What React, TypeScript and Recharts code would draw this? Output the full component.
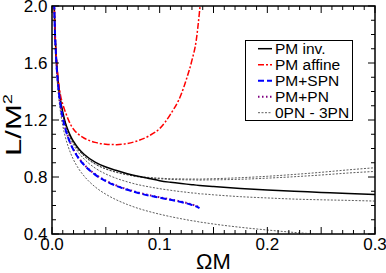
import React from "react";
import { LineChart, Line, XAxis, YAxis, ReferenceArea, Legend } from "recharts";

// ΩM grid the curves were read on
const omegaM = [
  0.0015, 0.0025, 0.004, 0.006, 0.008, 0.01, 0.0125, 0.015, 0.0175, 0.02, 0.025, 0.03, 0.04, 0.05,
  0.06, 0.07, 0.08, 0.09, 0.1, 0.11, 0.12, 0.125, 0.13, 0.134, 0.137, 0.14, 0.15, 0.175, 0.2, 0.225,
  0.25, 0.275, 0.3,
];

const pmInv = [
  2.2, 1.88, 1.635, 1.45, 1.335, 1.255, 1.18, 1.126, 1.083, 1.05, 0.997, 0.958, 0.905, 0.87, 0.845,
  0.823, 0.805, 0.79, 0.774, 0.763, 0.754, 0.75, 0.746, 0.743, 0.741, 0.739, 0.733, 0.72, 0.709, 0.7,
  0.692, 0.684, 0.677,
];

// stops where it leaves the top of the frame
const pmAffine = [
  2.22, 1.89, 1.645, 1.47, 1.37, 1.31, 1.255, 1.205, 1.165, 1.135, 1.097, 1.072, 1.043, 1.03, 1.027,
  1.035, 1.055, 1.088, 1.14, 1.24, 1.38, 1.49, 1.62, 1.76, 1.96, 2.2,
];

// both end around ΩM = 0.137
const pmSpn = [
  2.21, 1.875, 1.615, 1.421, 1.3, 1.213, 1.135, 1.076, 1.028, 0.989, 0.928, 0.883, 0.817, 0.771,
  0.737, 0.71, 0.688, 0.67, 0.655, 0.64, 0.624, 0.615, 0.604, 0.594, 0.582,
];
const pmPn = [
  2.21, 1.878, 1.618, 1.424, 1.303, 1.216, 1.138, 1.079, 1.031, 0.992, 0.931, 0.886, 0.82, 0.774,
  0.74, 0.713, 0.691, 0.673, 0.658, 0.643, 0.627, 0.618, 0.607, 0.597, 0.585,
];

const pn0 = [
  2.18, 1.84, 1.575, 1.376, 1.25, 1.16, 1.077, 1.014, 0.963, 0.921, 0.855, 0.805, 0.731, 0.679,
  0.639, 0.607, 0.58, 0.558, 0.539, 0.522, 0.507, 0.5, 0.493, 0.489, 0.484, 0.481, 0.47, 0.447,
  0.428, 0.411, 0.397, 0.385, 0.373,
];
const pn1 = [
  2.22, 1.89, 1.636, 1.446, 1.327, 1.243, 1.166, 1.109, 1.063, 1.026, 0.968, 0.925, 0.863, 0.821,
  0.79, 0.766, 0.746, 0.731, 0.718, 0.707, 0.697, 0.693, 0.688, 0.686, 0.682, 0.681, 0.675, 0.662,
  0.653, 0.645, 0.64, 0.636, 0.631,
];
const pn2 = [
  2.22, 1.89, 1.639, 1.45, 1.332, 1.25, 1.175, 1.119, 1.075, 1.04, 0.985, 0.946, 0.891, 0.856,
  0.832, 0.815, 0.801, 0.793, 0.788, 0.783, 0.781, 0.78, 0.78, 0.779, 0.778, 0.779, 0.78, 0.784,
  0.792, 0.802, 0.814, 0.828, 0.839,
];
const pn3 = [
  2.22, 1.89, 1.639, 1.45, 1.332, 1.25, 1.175, 1.119, 1.075, 1.04, 0.985, 0.946, 0.892, 0.857,
  0.834, 0.817, 0.804, 0.797, 0.792, 0.788, 0.787, 0.786, 0.786, 0.786, 0.785, 0.786, 0.788, 0.795,
  0.805, 0.818, 0.833, 0.85, 0.865,
];

const xTickLabels = [0, 0.1, 0.2, 0.3];
const yTickLabels = [0.4, 0.8, 1.2, 1.6, 2.0];

const data = omegaM.map((m, i) => ({
  m,
  pmInv: pmInv[i] ?? null,
  pmAffine: pmAffine[i] ?? null,
  pmSpn: pmSpn[i] ?? null,
  pmPn: pmPn[i] ?? null,
  pn0: pn0[i] ?? null,
  pn1: pn1[i] ?? null,
  pn2: pn2[i] ?? null,
  pn3: pn3[i] ?? null,
}));

const W = 386;
const H = 273;
const MARGIN = { top: 6, right: 11, bottom: 0, left: 0 };
const Y_AXIS_W = 52;
const X_AXIS_H = 39;
const PLOT_W = W - MARGIN.left - MARGIN.right - Y_AXIS_W;
const PLOT_H = H - MARGIN.top - MARGIN.bottom - X_AXIS_H;
const TICK_GAP = 4;
// no serif face renders in the sandbox, Liberation Sans is the closest in width
const FONT = '"Liberation Sans", Arial, sans-serif';
const fontStyle = { fontFamily: FONT };

// minor ticks: 0.01 along x, 0.1 along y
const xTicks = Array.from({ length: 31 }, (_, i) => +(i * 0.01).toFixed(2));
const yTicks = Array.from({ length: 17 }, (_, i) => +(0.4 + i * 0.1).toFixed(1));

const LEGEND_ITEMS = [
  { name: "PM inv.", color: "#000", dash: undefined, width: 1.5 },
  { name: "PM affine", color: "#ff0000", dash: "6 2 2 2", width: 1.5 },
  { name: "PM+SPN", color: "#0000ff", dash: "6 3", width: 2 },
  { name: "PM+PN", color: "#800080", dash: "1.5 2.5", width: 2 },
  { name: "0PN - 3PN", color: "#333", dash: "2 1.5", width: 0.8 },
];

function XTick({ x, y, payload }: any) {
  const v = payload.value;
  const major = Math.round(v * 100) % 5 === 0;
  const len = major ? 7 : 4;
  const axisY = y - TICK_GAP;
  const topY = axisY - PLOT_H;
  const label = xTickLabels.find((t) => Math.abs(t - v) < 1e-6);
  return (
    <g>
      <line x1={x} x2={x} y1={axisY} y2={axisY - len} stroke="#000" />
      <line x1={x} x2={x} y1={topY} y2={topY + len} stroke="#000" />
      {label !== undefined && (
        <text x={x} y={axisY + 15.5} textAnchor="middle" fontSize={17} style={fontStyle} fill="#000">
          {label.toFixed(1)}
        </text>
      )}
    </g>
  );
}

function YTick({ x, y, payload }: any) {
  const v = payload.value;
  const label = yTickLabels.find((t) => Math.abs(t - v) < 1e-6);
  const len = label !== undefined ? 7 : 4;
  const axisX = x + TICK_GAP;
  const rightX = axisX + PLOT_W;
  return (
    <g>
      <line x1={axisX} x2={axisX + len} y1={y} y2={y} stroke="#000" />
      <line x1={rightX} x2={rightX - len} y1={y} y2={y} stroke="#000" />
      {label !== undefined && (
        <text x={axisX - 4.5} y={y + 6} textAnchor="end" fontSize={17} style={fontStyle} fill="#000">
          {label.toFixed(1)}
        </text>
      )}
    </g>
  );
}

function XTitle() {
  return (
    <text x={MARGIN.left + Y_AXIS_W + PLOT_W / 2} y={H - 4} textAnchor="middle" fontSize={22} style={fontStyle} fill="#000">
      ΩM
    </text>
  );
}

function YTitle() {
  const cx = 21;
  const cy = 125;
  return (
    <text
      x={cx}
      y={cy}
      transform={`rotate(-90, ${cx}, ${cy})`}
      textAnchor="middle"
      fontSize={22}
      style={fontStyle}
      fill="#000"
      textLength={62}
      lengthAdjust="spacingAndGlyphs"
    >
      L/M
      <tspan dy={-9} fontSize={13}>
        2
      </tspan>
    </text>
  );
}

function LegendBox() {
  return (
    <div
      style={{
        width: 108,
        height: 81,
        border: "1px solid #000",
        boxSizing: "border-box",
        background: "#fff",
      }}
    >
      <svg width={106} height={79} style={{ display: "block" }}>
        {LEGEND_ITEMS.map((s, i) => {
          const cy = 7.7 + i * 16;
          return (
            <g key={s.name}>
              <line
                x1={12}
                x2={26}
                y1={cy}
                y2={cy}
                stroke={s.color}
                strokeWidth={s.width}
                strokeDasharray={s.dash}
              />
              <text x={29} y={cy + 5} fontSize={15.5} style={fontStyle} fill="#000">
                {s.name}
              </text>
            </g>
          );
        })}
      </svg>
    </div>
  );
}

export default function App() {
  return (
    <div style={{ position: "absolute", left: 0, top: 0, width: W, height: H, background: "#fff", ...fontStyle }}>
      <LineChart width={W} height={H} data={data} margin={MARGIN} style={fontStyle}>
        <XAxis
          dataKey="m"
          type="number"
          domain={[0, 0.3]}
          allowDataOverflow
          ticks={xTicks}
          interval={0}
          tickSize={0}
          tickMargin={TICK_GAP}
          tickLine={false}
          axisLine={false}
          height={X_AXIS_H}
          tick={<XTick />}
          label={<XTitle />}
        />
        <YAxis
          type="number"
          domain={[0.4, 2]}
          allowDataOverflow
          ticks={yTicks}
          interval={0}
          tickSize={0}
          tickMargin={TICK_GAP}
          tickLine={false}
          axisLine={false}
          width={Y_AXIS_W}
          tick={<YTick />}
          label={<YTitle />}
        />
        <ReferenceArea x1={0} x2={0.3} y1={0.4} y2={2} fill="none" stroke="#000" strokeWidth={1.5} />
        <Legend
          layout="vertical"
          align="center"
          verticalAlign="middle"
          wrapperStyle={{ left: 245, top: 40, width: 108, height: 81 }}
          content={<LegendBox />}
        />
        {(["pn0", "pn1", "pn2", "pn3"] as const).map((k) => (
          <Line
            key={k}
            dataKey={k}
            name="0PN - 3PN"
            type="monotone"
            stroke="#333"
            strokeWidth={0.8}
            strokeDasharray="2 1.5"
            dot={false}
            activeDot={false}
            isAnimationActive={false}
          />
        ))}
        <Line dataKey="pmInv" name="PM inv." type="monotone" stroke="#000" strokeWidth={1.5} dot={false} activeDot={false} isAnimationActive={false} />
        <Line dataKey="pmAffine" name="PM affine" type="monotone" stroke="#ff0000" strokeWidth={1.5} strokeDasharray="6 2 2 2" dot={false} activeDot={false} isAnimationActive={false} />
        <Line dataKey="pmPn" name="PM+PN" type="monotone" stroke="#800080" strokeWidth={2} strokeDasharray="1.5 2.5" dot={false} activeDot={false} isAnimationActive={false} />
        <Line dataKey="pmSpn" name="PM+SPN" type="monotone" stroke="#0000ff" strokeWidth={2} strokeDasharray="6 3" dot={false} activeDot={false} isAnimationActive={false} />
      </LineChart>
    </div>
  );
}
